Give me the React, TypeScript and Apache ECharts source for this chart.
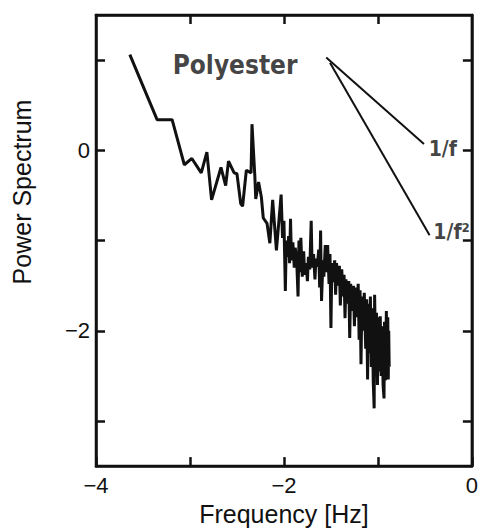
import React, { useEffect, useRef } from "react";
import * as echarts from "echarts";

// log10 frequency
const freq: number[] = [
  -3.64, -3.35, -3.19, -3.06, -2.98, -2.88, -2.82, -2.77, -2.67, -2.62, -2.59, -2.53, -2.50, -2.46, -2.44,
  -2.40, -2.35, -2.34, -2.31, -2.30, -2.27, -2.24, -2.22, -2.18, -2.15, -2.12, -2.08, -2.03,
  -2.015, -2.00, -1.985, -1.975, -1.96, -1.95, -1.94, -1.93, -1.92, -1.905, -1.89, -1.88, -1.865,
  -1.85, -1.84, -1.83, -1.82, -1.805, -1.79, -1.78, -1.765, -1.75, -1.74, -1.725, -1.71, -1.70,
  -1.685, -1.67, -1.66, -1.645, -1.63, -1.62, -1.61, -1.60, -1.585, -1.575, -1.56, -1.55, -1.535,
  -1.52, -1.51, -1.50, -1.49, -1.475, -1.46, -1.45, -1.44, -1.425, -1.41, -1.40, -1.385, -1.37,
  -1.36, -1.35, -1.34, -1.325, -1.31, -1.30, -1.29, -1.275, -1.26, -1.25, -1.24, -1.225, -1.21,
  -1.20, -1.19, -1.18, -1.17, -1.155, -1.145, -1.13, -1.12, -1.11, -1.10, -1.09, -1.08, -1.07,
  -1.06, -1.05, -1.04, -1.035, -1.025, -1.015, -1.005, -0.995, -0.985, -0.975, -0.965, -0.955,
  -0.945, -0.935, -0.93, -0.92, -0.91, -0.905, -0.895, -0.89, -0.885, -0.88,
];

// log10 power spectrum
const power: number[] = [
  1.06, 0.34, 0.34, -0.16, -0.09, -0.25, -0.02, -0.55, -0.19, -0.39, -0.12, -0.25, -0.26, -0.59, -0.62,
  -0.22, -0.25, 0.29, -0.28, -0.54, -0.35, -0.52, -0.75, -0.81, -1.03, -0.55, -1.11, -0.49,
  -0.97, -0.78, -1.56, -1.0, -1.18, -0.95, -1.25, -0.76, -1.22, -1.02, -1.30, -1.08, -1.20,
  -1.62, -1.0, -1.35, -0.97, -1.40, -1.12, -1.38, -1.25, -1.45, -1.18, -1.32, -0.78, -1.30,
  -1.15, -1.43, -1.20, -1.29, -1.10, -1.52, -0.89, -1.67, -1.22, -1.40, -1.05, -1.35, -1.05,
  -1.48, -1.15, -1.97, -1.25, -1.46, -1.22, -1.60, -1.25, -1.50, -1.28, -1.72, -1.32, -1.62,
  -1.38, -1.86, -1.43, -1.70, -1.45, -2.08, -1.48, -1.78, -1.50, -1.95, -1.52, -1.85, -1.48,
  -2.10, -1.55, -2.37, -1.62, -2.00, -1.58, -2.20, -1.65, -2.54, -1.70, -2.25, -1.62, -2.40,
  -1.75, -2.55, -2.86, -1.60, -2.30, -1.80, -2.60, -1.85, -2.45, -1.84, -2.50, -1.95,
  -2.60, -2.75, -1.90, -2.55, -1.78, -2.45, -1.85, -2.54, -2.0, -2.40,
];

// reference slopes: [x0, y0, x1, y1]
const slope1: number[] = [-1.55, 1.03, -0.51, 0.07];
const slope2: number[] = [-1.51, 0.97, -0.45, -0.94];

const noteText: string[] = ["Polyester", "1/f", "1/f²"];
const noteX: number[] = [-2.52, -0.46, -0.41];
const noteY: number[] = [0.95, 0.02, -0.9];

const xTicks: number[] = [-4, -3, -2, -1, 0];
const xTopTicks: number[] = [-3, -2, -1];
const xLabels: number[] = [-4, -2, 0];
const yTicks: number[] = [-3, -2, -1, 0, 1];
const yLabels: number[] = [-2, 0];

const INK = "#111";
const fmt = (v: number) => (v < 0 ? "\u2212" + Math.abs(v) : String(v));

export default function App() {
  const ref = useRef<HTMLDivElement>(null);
  useEffect(() => {
    document.body.style.margin = "0";
    const chart = echarts.init(ref.current!, undefined, { renderer: "svg" });
    const axisLine = () => ({ show: true, onZero: false, lineStyle: { color: INK, width: 2.5 } });
    const tick = (vals: number[]) => ({
      show: true,
      inside: true,
      length: 9,
      customValues: vals,
      lineStyle: { color: INK, width: 2.5 },
    });
    const tickFont = { color: INK, fontSize: 22, fontFamily: "Liberation Sans, Arial, sans-serif" };
    const noteFont = '"Liberation Sans Narrow", "DejaVu Sans Condensed", sans-serif';
    chart.setOption({
      animation: false,
      backgroundColor: "#fff",
      grid: { left: 96, right: 6, top: 15, bottom: 50, show: true, borderColor: INK, borderWidth: 2.5 },
      xAxis: [
        {
          type: "value",
          min: -4,
          max: 0,
          position: "bottom",
          axisLine: axisLine(),
          axisTick: tick(xTicks),
          splitLine: { show: false },
          axisLabel: { ...tickFont, customValues: xLabels, formatter: fmt, margin: 8 },
          name: "Frequency [Hz]",
          nameLocation: "middle",
          nameGap: 20,
          nameTextStyle: { color: INK, fontSize: 25, fontFamily: "Liberation Sans, Arial, sans-serif", verticalAlign: "top" },
        },
        {
          type: "value",
          show: true,
          min: -4,
          max: 0,
          position: "top",
          axisLine: axisLine(),
          axisTick: tick(xTopTicks),
          splitLine: { show: false },
          axisLabel: { show: false },
        },
      ],
      yAxis: [
        {
          type: "value",
          min: -3.5,
          max: 1.5,
          position: "left",
          axisLine: axisLine(),
          axisTick: tick(yTicks),
          splitLine: { show: false },
          axisLabel: { ...tickFont, customValues: yLabels, formatter: fmt, margin: 6 },
        },
        {
          type: "value",
          show: true,
          min: -3.5,
          max: 1.5,
          position: "right",
          axisLine: axisLine(),
          axisTick: tick(yTicks),
          splitLine: { show: false },
          axisLabel: { show: false },
        },
      ],
      graphic: [
        {
          type: "text",
          x: 22,
          y: 192,
          rotation: Math.PI / 2,
          style: {
            text: "Power Spectrum",
            fill: INK,
            fontSize: 25,
            fontFamily: "Liberation Sans, Arial, sans-serif",
            align: "center",
            verticalAlign: "middle",
          },
        },
      ],
      series: [
        {
          type: "line",
          data: freq.map((f, i) => [f, power[i]]),
          symbol: "none",
          lineStyle: { color: INK, width: 3 },
          silent: true,
        },
        {
          type: "line",
          data: [
            [slope1[0], slope1[1]],
            [slope1[2], slope1[3]],
          ],
          symbol: "none",
          lineStyle: { color: INK, width: 2 },
          silent: true,
        },
        {
          type: "line",
          data: [
            [slope2[0], slope2[1]],
            [slope2[2], slope2[3]],
          ],
          symbol: "none",
          lineStyle: { color: INK, width: 2 },
          silent: true,
        },
        {
          type: "scatter",
          symbolSize: 0,
          silent: true,
          data: noteText.map((t, i) => ({
            value: [noteX[i], noteY[i]],
            label: {
              show: true,
              formatter: t,
              position: i === 0 ? "inside" : "right",
              distance: 0,
              color: INK,
              fontWeight: "bold",
              fontFamily: noteFont,
              fontSize: i === 0 ? 26 : 21,
            },
          })),
        },
        {
          type: "line",
          xAxisIndex: 1,
          yAxisIndex: 1,
          data: [],
          silent: true,
        },
      ],
    });
    return () => chart.dispose();
  }, []);
  return <div ref={ref} style={{ width: 481, height: 531 }} />;
}
